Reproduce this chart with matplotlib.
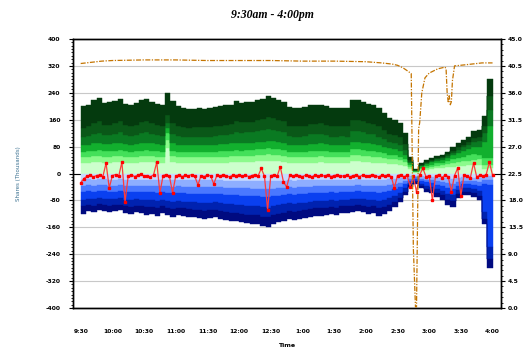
import matplotlib
matplotlib.use("Agg")
import matplotlib.pyplot as plt
import numpy as np
from matplotlib.ticker import AutoMinorLocator, FixedLocator

plt.rcParams["axes.unicode_minus"] = False

# 5 minute bins from 9:30 to 4:00 (thousands of shares)
buy_top = [200, 205, 220, 225, 210, 212, 215, 222, 208, 205,
           210, 220, 222, 212, 208, 205, 240, 215, 200, 195,
           192, 193, 195, 193, 195, 198, 200, 203, 205, 215,
           210, 212, 212, 218, 222, 230, 225, 220, 212, 198,
           195, 195, 197, 203, 203, 205, 200, 194, 194, 196,
           194, 218, 218, 213, 208, 203, 195, 180, 164, 159,
           150, 120, 50, 12, 30, 40, 46, 52, 55, 65,
           80, 90, 100, 110, 125, 130, 170, 280]
buy_g6 = [135, 140, 150, 155, 145, 145, 150, 155, 145, 142,
          145, 152, 155, 150, 145, 142, 175, 150, 142, 138,
          136, 137, 138, 137, 138, 140, 142, 145, 148, 155,
          152, 154, 154, 158, 162, 168, 165, 160, 155, 142,
          140, 140, 142, 147, 147, 150, 145, 140, 140, 142,
          140, 160, 160, 155, 150, 147, 140, 130, 118, 115,
          108, 88, 40, 10, 26, 35, 41, 46, 49, 57,
          68, 78, 86, 94, 106, 110, 140, 230]
buy_g5 = [110, 112, 118, 120, 115, 115, 118, 122, 115, 112,
          115, 120, 122, 118, 115, 112, 150, 118, 112, 110,
          108, 108, 110, 108, 110, 112, 114, 115, 118, 122,
          120, 122, 122, 125, 128, 132, 130, 126, 122, 112,
          110, 110, 112, 116, 116, 118, 114, 110, 110, 112,
          110, 125, 125, 122, 118, 116, 110, 102, 95, 92,
          86, 70, 35, 9, 24, 32, 37, 42, 45, 52,
          62, 70, 78, 85, 95, 98, 120, 190]
buy_g4 = [85, 85, 90, 92, 88, 88, 90, 92, 88, 86,
          88, 90, 92, 90, 88, 86, 135, 90, 86, 85,
          84, 84, 85, 84, 85, 86, 88, 88, 90, 92,
          90, 92, 92, 94, 95, 98, 96, 94, 92, 86,
          85, 85, 86, 88, 88, 90, 88, 85, 85, 86,
          85, 95, 95, 92, 90, 88, 85, 80, 75, 72,
          68, 56, 30, 8, 21, 28, 33, 37, 40, 46,
          54, 60, 66, 72, 80, 80, 95, 140]
buy_g3 = [65, 66, 68, 70, 66, 66, 68, 70, 66, 65,
          66, 68, 70, 68, 66, 65, 120, 68, 65, 64,
          63, 63, 64, 63, 64, 65, 66, 66, 68, 70,
          68, 70, 70, 72, 72, 75, 74, 72, 70, 65,
          64, 64, 65, 66, 66, 68, 66, 64, 64, 65,
          64, 72, 72, 70, 68, 66, 64, 60, 56, 54,
          50, 42, 24, 6, 16, 22, 26, 30, 32, 37,
          42, 46, 50, 54, 58, 55, 45, 45]
buy_g2 = [50, 50, 52, 53, 50, 50, 52, 53, 50, 50,
          50, 52, 53, 52, 50, 50, 100, 52, 50, 49,
          48, 48, 49, 48, 49, 50, 50, 50, 52, 53,
          52, 53, 53, 55, 55, 57, 56, 55, 53, 50,
          49, 49, 50, 50, 50, 52, 50, 49, 49, 50,
          49, 55, 55, 53, 52, 50, 49, 46, 43, 42,
          40, 34, 18, 5, 12, 17, 20, 23, 25, 28,
          32, 34, 36, 38, 40, 42, 25, 25]
buy_g1 = [32, 32, 34, 35, 32, 32, 34, 35, 32, 32,
          32, 34, 35, 34, 32, 32, 75, 34, 32, 31,
          30, 30, 31, 30, 31, 32, 32, 32, 34, 35,
          34, 35, 35, 36, 36, 38, 37, 36, 35, 32,
          31, 31, 32, 32, 32, 34, 32, 31, 31, 32,
          31, 36, 36, 35, 34, 32, 31, 30, 28, 27,
          26, 22, 12, 3, 8, 11, 13, 15, 16, 18,
          20, 22, 23, 24, 25, 26, 14, 15]

sell_bottom = [-120, -112, -115, -108, -112, -115, -113, -110, -118, -120,
               -115, -118, -122, -120, -125, -118, -123, -128, -122, -125,
               -128, -130, -132, -135, -133, -130, -135, -138, -140, -142,
               -145, -148, -150, -150, -155, -158, -150, -145, -140, -135,
               -138, -135, -132, -128, -125, -125, -122, -120, -122, -118,
               -118, -115, -112, -115, -120, -118, -125, -120, -112, -100,
               -85, -65, -40, -30, -44, -54, -59, -69, -79, -94,
               -99, -74, -64, -64, -69, -79, -150, -280]
sell_b5 = [-98, -94, -96, -92, -94, -96, -95, -93, -98, -100,
           -96, -98, -100, -100, -104, -98, -102, -106, -102, -104,
           -106, -108, -110, -112, -110, -108, -112, -114, -116, -118,
           -120, -122, -124, -124, -128, -130, -124, -120, -116, -112,
           -114, -112, -110, -106, -104, -104, -102, -100, -102, -98,
           -98, -96, -94, -96, -100, -98, -104, -100, -94, -84,
           -72, -55, -34, -26, -37, -45, -49, -57, -65, -78,
           -82, -62, -54, -54, -58, -66, -135, -255]
sell_b4 = [-78, -75, -76, -73, -75, -76, -76, -74, -78, -80,
           -77, -78, -80, -80, -83, -78, -81, -84, -82, -84,
           -85, -86, -88, -89, -88, -86, -89, -91, -92, -94,
           -95, -97, -98, -98, -101, -103, -98, -95, -92, -89,
           -90, -89, -87, -84, -83, -83, -81, -80, -81, -78,
           -78, -76, -75, -76, -79, -78, -82, -79, -74, -66,
           -57, -44, -28, -21, -30, -36, -40, -46, -52, -62,
           -65, -50, -44, -44, -47, -53, -115, -220]
sell_b3 = [-55, -53, -54, -52, -53, -54, -54, -52, -55, -56,
           -54, -55, -56, -56, -58, -55, -57, -59, -58, -59,
           -60, -60, -61, -62, -61, -60, -62, -63, -64, -65,
           -66, -67, -68, -68, -70, -71, -68, -66, -64, -62,
           -63, -62, -61, -59, -58, -58, -57, -56, -57, -55,
           -55, -54, -53, -54, -56, -55, -58, -56, -52, -47,
           -40, -32, -21, -16, -22, -26, -29, -33, -37, -43,
           -46, -36, -32, -32, -34, -38, -32, -35]
sell_b2 = [-36, -35, -36, -34, -35, -36, -36, -35, -36, -37,
           -36, -36, -37, -37, -38, -36, -38, -39, -38, -39,
           -40, -40, -40, -41, -40, -40, -41, -42, -42, -43,
           -44, -44, -45, -45, -46, -47, -45, -44, -42, -41,
           -42, -41, -40, -39, -38, -38, -38, -37, -38, -36,
           -36, -36, -35, -36, -37, -36, -38, -37, -34, -31,
           -27, -22, -15, -11, -15, -18, -20, -22, -25, -28,
           -30, -24, -22, -22, -23, -25, -18, -18]
sell_b1 = [-18, -17, -18, -17, -17, -18, -18, -17, -18, -18,
           -18, -18, -18, -18, -19, -18, -19, -19, -19, -19,
           -20, -20, -20, -20, -20, -20, -20, -21, -21, -21,
           -22, -22, -22, -22, -23, -23, -22, -22, -21, -20,
           -21, -20, -20, -19, -19, -19, -19, -18, -19, -18,
           -18, -18, -17, -18, -18, -18, -19, -18, -17, -16,
           -14, -12, -8, -6, -8, -10, -11, -12, -13, -14,
           -15, -12, -11, -11, -12, -12, -8, -8]

# net line, every 3 minutes
net_flow = [-28, -15, -8, -5, -10, -6, -4, -9, 31, -43,
            -6, -3, -8, 34, -84, -7, -4, -9, -5, -2,
            -8, -6, -10, -4, 34, -58, -6, -3, -8, -58,
            -7, -4, -9, -5, -7, -3, -8, -34, -6, -9,
            -4, -7, -31, -5, -8, -3, -7, -10, -5, -6,
            -4, -8, -5, -9, -6, -3, -7, 15, -8, -108,
            -6, -4, -8, 20, -25, -40, -5, -8, -3, -7,
            -9, -5, -6, -10, -4, -7, -5, -8, -3, -9,
            -6, -4, -8, -7, -5, -10, -6, -4, -9, -5,
            -7, -8, -3, -6, -10, -5, -7, -4, -9, -43,
            -6, -3, -10, -5, -39, -8, -55, -4, 16, -10,
            -6, -79, -8, -3, -12, -5, -9, -54, -6, 16,
            -66, -4, -8, -12, 31, -10, -5, -8, -3, 34,
            -5]

# price (right axis)
price_minute = [0, 10, 20, 30, 60, 90, 120, 150, 180, 210,
                240, 270, 285, 295, 300, 305, 310, 313, 315, 317,
                318, 319, 320, 321, 323, 326, 330, 338, 345, 346,
                347, 348, 349, 350, 351, 352, 354, 365, 380, 390]
price = [40.9, 41.1, 41.3, 41.4, 41.5, 41.5, 41.4, 41.4, 41.4, 41.3,
         41.3, 41.2, 41.0, 40.8, 40.6, 40.2, 39.6, 39.2, 10.0, 0.2,
         0.2, 15.0, 30.0, 31.0, 36.0, 38.5, 39.3, 40.0, 40.3, 40.0,
         36.0, 34.5, 35.5, 34.0, 34.5, 38.0, 40.5, 40.7, 41.0, 41.0]

time_labels = ["9:30", "10:00", "10:30", "11:00", "11:30", "12:00", "12:30",
               "1:00", "1:30", "2:00", "2:30", "3:00", "3:30", "4:00"]

green_colors = ["#ccffcc", "#8cfa8c", "#44e05a", "#12b02e", "#0a7a22", "#0a5818", "#043a0e"]
blue_colors = ["#c8daff", "#8eaeff", "#4a78ff", "#0a40f0", "#0022b0", "#000a80"]

bin_width = 5
edges = np.arange(len(buy_top) + 1) * bin_width


def stepped(vals):
    vals = np.asarray(vals, dtype=float)
    return np.append(vals, vals[-1])


fig = plt.figure(figsize=(5.23, 3.63), dpi=100)
ax = fig.add_axes([73 / 523, 1 - 308 / 363, 428 / 523, 269 / 363])

ax.set_axisbelow(True)
ax.grid(axis="y", color="#c8c8c8", lw=0.8)
ax.axhline(0, color="black", lw=0.8, zorder=1)

zero = np.zeros(len(buy_top))
green_bounds = [zero, buy_g1, buy_g2, buy_g3, buy_g4, buy_g5, buy_g6, buy_top]
for lo, hi, col in zip(green_bounds[:-1], green_bounds[1:], green_colors):
    ax.fill_between(edges, stepped(lo), stepped(hi), step="post",
                    facecolor=col, edgecolor=col, lw=0.3, zorder=2)

blue_bounds = [zero, sell_b1, sell_b2, sell_b3, sell_b4, sell_b5, sell_bottom]
for hi, lo, col in zip(blue_bounds[:-1], blue_bounds[1:], blue_colors):
    ax.fill_between(edges, stepped(lo), stepped(hi), step="post",
                    facecolor=col, edgecolor=col, lw=0.3, zorder=2)

net_minute = np.arange(len(net_flow)) * 3
ax.plot(net_minute, net_flow, color="#ff3b3b", lw=0.9, marker="s", ms=1.9,
        mfc="red", mec="red", zorder=5)

ax.set_xlim(-7.3, 398)
ax.set_ylim(-400, 400)
ax.set_yticks(range(-400, 401, 80))
ax.yaxis.set_minor_locator(AutoMinorLocator(8))
ax.set_xticks(np.arange(len(time_labels)) * 30)
ax.set_xticklabels(time_labels)
ax.tick_params(axis="x", length=0, pad=15, labelsize=4.3)
ax.tick_params(axis="y", which="major", length=3, width=0.8, labelsize=4.3, pad=6)
ax.tick_params(axis="y", which="minor", length=1.5, width=0.6)
for lab in ax.get_xticklabels() + ax.get_yticklabels():
    lab.set_fontweight("bold")

ax.set_ylabel("Shares (Thousands)", fontsize=4, color="#3a7090")
ax.yaxis.set_label_coords(-0.122, 0.5)
ax.set_xlabel("Time", fontsize=4.5, fontweight="bold")
ax.xaxis.set_label_coords(0.5, -0.13)

ax2 = ax.twinx()
ax2.plot(price_minute, price, color="#c47400", lw=0.9,
         ls=(0, (4, 1.2, 1, 1.2)), zorder=4)
ax2.set_ylim(0, 45)
ax2.yaxis.set_major_locator(FixedLocator(np.arange(0, 45.1, 4.5)))
ax2.yaxis.set_minor_locator(AutoMinorLocator(5))
ax2.set_yticklabels(["%.1f" % v for v in np.arange(0, 45.1, 4.5)])
ax2.tick_params(axis="y", which="major", length=3, width=0.8, labelsize=4.3, pad=2)
ax2.tick_params(axis="y", which="minor", length=1.5, width=0.6)
for lab in ax2.get_yticklabels():
    lab.set_fontweight("bold")

for a in (ax, ax2):
    for sp in a.spines.values():
        sp.set_linewidth(1.0)

fig.text(272 / 523, 1 - 15 / 363, "9:30am - 4:00pm", ha="center", va="center",
         family="Liberation Serif", fontsize=8.5, fontweight="bold", style="italic")

fig.savefig("out.png", dpi=100)
